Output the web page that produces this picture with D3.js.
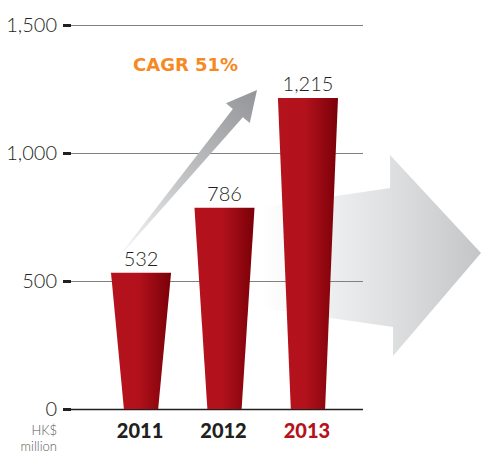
<!DOCTYPE html>
<html>
<head>
<meta charset="utf-8">
<script src="https://cdn.jsdelivr.net/npm/d3@7"></script>
<style>
  body { margin: 0; background: #fff; }
  svg { display: block; font-family: Lato, "Open Sans", sans-serif; }
</style>
</head>
<body>
<div id="chart"></div>
<script>
const svgWidth = 481
const svgHeight = 454

// data
const years = ["2011", "2012", "2013"]
const values = [532, 786, 1215]
const valueLabels = ["532", "786", "1,215"]
const tickValues = [0, 500, 1000, 1500]
const tickLabels = ["0", "500", "1,000", "1,500"]
const growthLabel = "CAGR 51%"

let svg = d3
  .select("#chart")
  .append("svg")
  .attr("width", svgWidth)
  .attr("height", svgHeight)

let y = d3.scaleLinear().domain([0, 1500]).range([409, 25])
let x = d3
  .scaleBand()
  .domain(years)
  .range([111, 338])
  .paddingInner(0.28)
  .paddingOuter(0)

let axisX = 71
let gridEnd = 363

let defs = svg.append("defs")

let barGrad = defs
  .append("linearGradient")
  .attr("id", "barGrad")
  .attr("x1", "0%")
  .attr("x2", "100%")
barGrad.append("stop").attr("offset", "0%").attr("stop-color", "#b4121c")
barGrad.append("stop").attr("offset", "45%").attr("stop-color", "#b3121c")
barGrad.append("stop").attr("offset", "100%").attr("stop-color", "#7a0008")

let bigGrad = defs
  .append("linearGradient")
  .attr("id", "bigGrad")
  .attr("gradientUnits", "userSpaceOnUse")
  .attr("x1", 262).attr("y1", 0)
  .attr("x2", 481).attr("y2", 0)
bigGrad.append("stop").attr("offset", "0").attr("stop-color", "#ffffff")
bigGrad.append("stop").attr("offset", "0.3").attr("stop-color", "#eeeff0")
bigGrad.append("stop").attr("offset", "0.58").attr("stop-color", "#dfe0e2")
bigGrad.append("stop").attr("offset", "1").attr("stop-color", "#c4c5c7")

// big arrow pointing right (behind grid)
svg
  .append("polygon")
  .attr("points", [
    [262, 207], [390, 188], [390, 155], [481, 253],
    [393, 356], [393, 327], [262, 308]
  ].map(p => p.join(",")).join(" "))
  .attr("fill", "url(#bigGrad)")

// grid lines
let grid = svg
  .append("g")
  .attr("transform", `translate(${axisX}, 0)`)
  .call(d3.axisRight(y).tickValues(tickValues).tickSize(gridEnd - axisX).tickFormat(""))
grid.select(".domain").remove()
grid.selectAll(".tick line")
  .attr("stroke", d => (d === 0 ? "#231f20" : "#808080"))
  .attr("stroke-width", d => (d === 0 ? 1.5 : 1))

// left axis: short thick dashes + labels
let axis = svg
  .append("g")
  .attr("transform", `translate(${axisX}, 0)`)
  .call(
    d3.axisLeft(y)
      .tickValues(tickValues)
      .tickSize(8)
      .tickPadding(6)
      .tickFormat((d, i) => tickLabels[i])
  )
axis.select(".domain").remove()
axis.selectAll(".tick line").attr("stroke", "#231f20").attr("stroke-width", 3)
axis.selectAll(".tick text")
  .attr("fill", "#231f20")
  .attr("font-size", 20)
  .attr("font-weight", 300)
  .attr("font-family", "Lato, sans-serif")

// rising arrow (CAGR)
let base = [112, 265]
let tip = [257, 90]
let dx = tip[0] - base[0], dy = tip[1] - base[1]
let len = Math.hypot(dx, dy)
let u = [dx / len, dy / len]
let n = [-u[1], u[0]]
let headBack = 30, headHalf = 15.5, shaftHalf = 6.5
let hb = [tip[0] - u[0] * headBack, tip[1] - u[1] * headBack]
let risePts = [
  base,
  [hb[0] + n[0] * shaftHalf, hb[1] + n[1] * shaftHalf],
  [hb[0] + n[0] * headHalf, hb[1] + n[1] * headHalf],
  tip,
  [hb[0] - n[0] * headHalf, hb[1] - n[1] * headHalf],
  [hb[0] - n[0] * shaftHalf, hb[1] - n[1] * shaftHalf]
]
let riseGrad = defs
  .append("linearGradient")
  .attr("id", "riseGrad")
  .attr("gradientUnits", "userSpaceOnUse")
  .attr("x1", base[0]).attr("y1", base[1])
  .attr("x2", tip[0]).attr("y2", tip[1])
riseGrad.append("stop").attr("offset", "0").attr("stop-color", "#ffffff")
riseGrad.append("stop").attr("offset", "0.45").attr("stop-color", "#c6c7c9")
riseGrad.append("stop").attr("offset", "1").attr("stop-color", "#949598")
svg
  .append("polygon")
  .attr("points", risePts.map(p => p.join(",")).join(" "))
  .attr("fill", "url(#riseGrad)")

svg
  .append("text")
  .attr("x", 133)
  .attr("y", 71)
  .attr("fill", "#f58a24")
  .attr("font-size", 18)
  .attr("font-weight", 700)
  .attr("font-family", "'DejaVu Sans', sans-serif")
  .text(growthLabel)

// tapered bars
let bars = svg.append("g")
bars
  .selectAll("path")
  .data(years)
  .enter()
  .append("path")
  .attr("fill", "url(#barGrad)")
  .attr("d", (d, i) => {
    let c = x(d) + x.bandwidth() / 2
    let top = x.bandwidth() / 2
    let bot = x.bandwidth() * 0.285
    return `M${c - top},${y(values[i])} L${c + top},${y(values[i])} L${c + bot},${y(0)} L${c - bot},${y(0)} Z`
  })

// value labels
svg
  .append("g")
  .selectAll("text")
  .data(years)
  .enter()
  .append("text")
  .attr("x", d => x(d) + x.bandwidth() / 2)
  .attr("y", (d, i) => y(values[i]) - 7)
  .attr("text-anchor", "middle")
  .attr("fill", "#231f20")
  .attr("font-size", 20)
  .attr("font-weight", 300)
  .text((d, i) => valueLabels[i])

// year labels
svg
  .append("g")
  .selectAll("text")
  .data(years)
  .enter()
  .append("text")
  .attr("x", d => x(d) + x.bandwidth() / 2 - 1)
  .attr("y", 438)
  .attr("text-anchor", "middle")
  .attr("fill", (d, i) => (i === years.length - 1 ? "#b5121b" : "#231f20"))
  .attr("font-size", 20)
  .attr("font-weight", 900)
  .text(d => d)

// unit label
let unit = svg
  .append("g")
  .attr("fill", "#58595b")
  .attr("font-size", 13)
  .attr("font-weight", 300)
  .attr("text-anchor", "end")
unit.append("text").attr("x", 57).attr("y", 435).text("HK$")
unit.append("text").attr("x", 57).attr("y", 451).text("million")
</script>
</body>
</html>
